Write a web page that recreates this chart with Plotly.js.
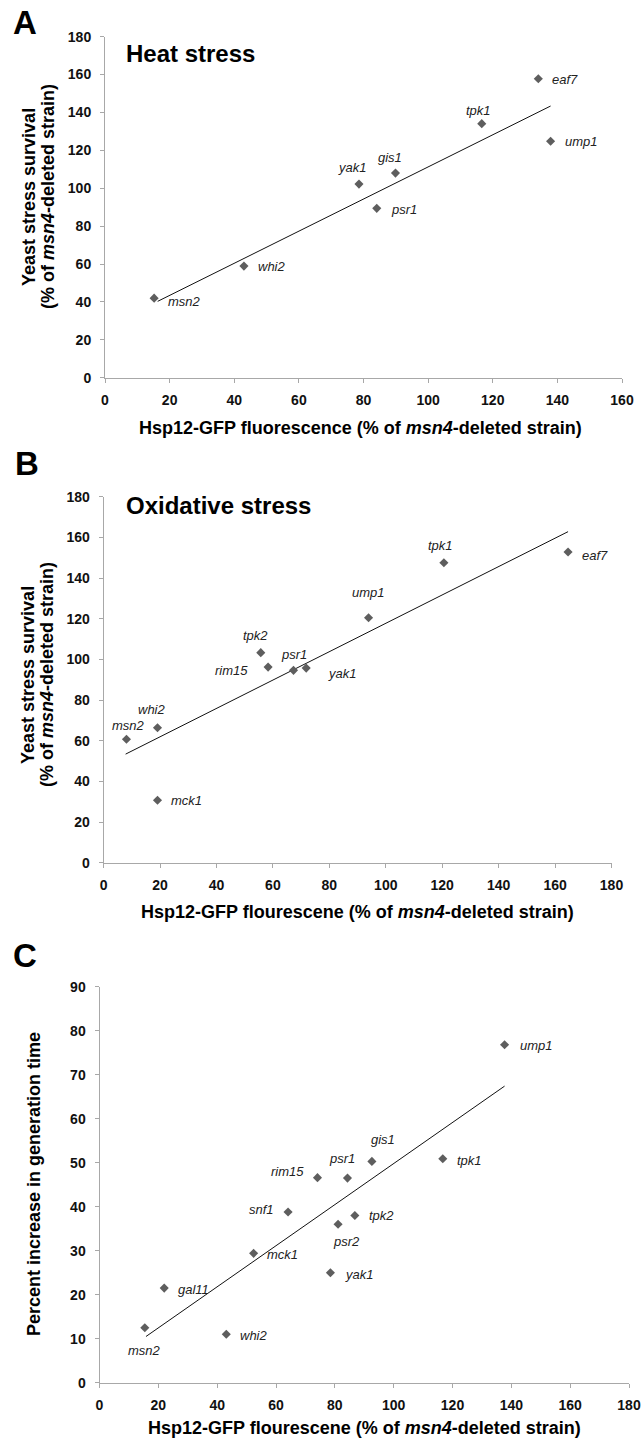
<!DOCTYPE html>
<html>
<head>
<meta charset="utf-8">
<script src="https://cdn.plot.ly/plotly-3.0.1.min.js"></script>
<style>
html,body{margin:0;padding:0;background:#fff;}
#chart{width:641px;height:1438px;}
</style>
</head>
<body>
<div id="chart"></div>
<script>
// ---------- DATA ----------
// Panel A: Heat stress
const genesA = ['eaf7','tpk1','ump1','gis1','yak1','psr1','whi2','msn2'];
const hspA   = [134.1, 116.6, 137.9, 89.9, 78.6, 84.1, 43.0, 15.2];
const survA  = [157.8, 134.1, 124.8, 108.0, 102.2, 89.4, 58.9, 42.0];
const trendAx = [16.3, 137.9];
const trendAy = [40.3, 143.4];

// Panel B: Oxidative stress
const genesB = ['tpk1','eaf7','ump1','tpk2','rim15','psr1','yak1','whi2','msn2','mck1'];
const hspB   = [120.6, 164.6, 93.9, 55.7, 58.3, 67.3, 71.8, 19.1, 8.1, 19.1];
const survB  = [147.5, 152.8, 120.5, 103.3, 96.2, 94.6, 95.7, 66.4, 60.7, 30.7];
const trendBx = [7.8, 164.6];
const trendBy = [53.4, 162.8];

// Panel C: generation time
const genesC = ['ump1','tpk1','gis1','psr1','rim15','snf1','tpk2','psr2','mck1','yak1','gal11','msn2','whi2'];
const hspC   = [137.7, 116.7, 92.6, 84.3, 74.1, 64.1, 86.8, 81.1, 52.4, 78.5, 22.0, 15.4, 43.1];
const genC   = [76.8, 50.9, 50.3, 46.5, 46.6, 38.8, 38.0, 36.0, 29.4, 25.0, 21.5, 12.5, 11.0];
const trendCx = [15.8, 137.7];
const trendCy = [10.5, 67.4];

// Text
const panelLetters = ['A','B','C'];
const panelTitles = ['Heat stress','Oxidative stress'];
const xTitles = ['Hsp12-GFP fluorescence (% of <i>msn4</i>-deleted strain)',
                 'Hsp12-GFP flourescene (% of <i>msn4</i>-deleted strain)',
                 'Hsp12-GFP flourescene (% of <i>msn4</i>-deleted strain)'];
const yTitleA = ['Yeast stress survival','(% of <i>msn4</i>-deleted strain)'];
const yTitleB = ['Yeast stress survival','(% of <i>msn4</i>-deleted strain)'];
const yTitleC = 'Percent increase in generation time';

// ---------- STYLE / PLACEMENT ----------
const W = 641, H = 1438;
const FONT = 'Liberation Sans, Arial, Helvetica, sans-serif';
const px = v => v / W;
const py = v => 1 - v / H;

// label placement: [xanchor, xshift, yshift]
const placeA = [['left',12,-1],['center',-3,13],['left',12,0],['center',-5,16],['center',-7,17],['left',12,-1],['left',12,0],['left',12,-3]];
const placeB = [['center',-3,17],['left',12,-3],['center',0,25],['center',-5,17],['right',-18,-3],['center',0,16],['left',20,-5],['center',-5,18],['center',2,14],['left',12,0]];
const placeC = [['left',13,-1],['left',12,-2],['center',11,22],['center',-5,20],['right',-11,6],['right',-12,2],['left',12,0],['center',8,-17],['left',11,-1],['left',13,-2],['left',12,-1],['center',0,-23],['left',12,-1]];

const MARK = '#5e5e5e';
const AXC = '#a8a8a8';

function axisX(domain, range, anchor) {
  return {domain: domain, range: range, dtick: 20, tick0: 0, anchor: anchor,
    showgrid: false, zeroline: false, showline: true, linecolor: AXC, linewidth: 1,
    ticks: 'outside', ticklen: 4, tickcolor: AXC, tickwidth: 1,
    tickfont: {family: FONT, size: 14, color: '#111', weight: 'bold'},
    ticklabelstandoff: 5, fixedrange: true};
}
function axisY(domain, range, dtick, anchor) {
  return {domain: domain, range: range, dtick: dtick, tick0: 0, anchor: anchor,
    showgrid: false, zeroline: false, showline: true, linecolor: AXC, linewidth: 1,
    ticks: 'outside', ticklen: 4, tickcolor: AXC, tickwidth: 1,
    tickfont: {family: FONT, size: 14, color: '#111', weight: 'bold'},
    ticklabelstandoff: 6, fixedrange: true};
}

function markers(x, y, xa, ya) {
  return {x: x, y: y, xaxis: xa, yaxis: ya, type: 'scatter', mode: 'markers',
    marker: {symbol: 'diamond', size: 7, color: MARK}, hoverinfo: 'skip', showlegend: false, cliponaxis: false};
}
function trend(x, y, xa, ya) {
  return {x: x, y: y, xaxis: xa, yaxis: ya, type: 'scatter', mode: 'lines',
    line: {color: '#111', width: 1}, hoverinfo: 'skip', showlegend: false};
}

const data = [
  trend(trendAx, trendAy, 'x', 'y'),
  markers(hspA, survA, 'x', 'y'),
  trend(trendBx, trendBy, 'x2', 'y2'),
  markers(hspB, survB, 'x2', 'y2'),
  trend(trendCx, trendCy, 'x3', 'y3'),
  markers(hspC, genC, 'x3', 'y3')
];

const annotations = [];
function pointLabels(genes, xs, ys, place, xr, yr) {
  genes.forEach((g, i) => {
    const p = place[i];
    annotations.push({x: xs[i], y: ys[i], xref: xr, yref: yr, text: '<i>' + g + '</i>',
      showarrow: false, xanchor: p[0], yanchor: 'middle', xshift: p[1], yshift: p[2],
      font: {family: FONT, size: 13, color: '#222'}});
  });
}
pointLabels(genesA, hspA, survA, placeA, 'x', 'y');
pointLabels(genesB, hspB, survB, placeB, 'x2', 'y2');
pointLabels(genesC, hspC, genC, placeC, 'x3', 'y3');

function paperText(text, xpx, ypx, size, opts) {
  annotations.push(Object.assign({x: px(xpx), y: py(ypx), xref: 'paper', yref: 'paper', text: text,
    showarrow: false, xanchor: 'center', yanchor: 'middle',
    font: {family: FONT, size: size, color: '#000', weight: 'bold'}}, opts || {}));
}
// panel letters
paperText(panelLetters[0], 25, 22, 33);
paperText(panelLetters[1], 27, 463, 33);
paperText(panelLetters[2], 25, 955, 33);
// panel titles
paperText(panelTitles[0], 124, 54, 24, {xanchor: 'left'});
paperText(panelTitles[1], 124, 506, 24, {xanchor: 'left'});
// x titles
paperText(xTitles[0], 360, 428, 18);
paperText(xTitles[1], 357, 912, 18);
paperText(xTitles[2], 364, 1428, 18);
// y titles
paperText(yTitleA[0], 29, 197, 18, {textangle: -90});
paperText(yTitleA[1], 48, 197, 18, {textangle: -90});
paperText(yTitleB[0], 28, 675, 18, {textangle: -90});
paperText(yTitleB[1], 47, 675, 18, {textangle: -90});
paperText(yTitleC, 34, 1184, 18, {textangle: -90});

const layout = {
  width: W, height: H,
  margin: {l: 0, r: 0, t: 0, b: 0, pad: 0},
  paper_bgcolor: '#fff', plot_bgcolor: 'rgba(0,0,0,0)',
  showlegend: false,
  xaxis:  axisX([px(105), px(622)], [0, 160], 'y'),
  yaxis:  axisY([py(377.7), py(36.7)], [0, 180], 20, 'x'),
  xaxis2: axisX([px(103.6), px(611.5)], [0, 180], 'y2'),
  yaxis2: axisY([py(862.7), py(496.7)], [0, 180], 20, 'x2'),
  xaxis3: axisX([px(99.5), px(629)], [0, 180], 'y3'),
  yaxis3: axisY([py(1382.7), py(986.7)], [0, 90], 10, 'x3'),
  annotations: annotations
};

Plotly.newPlot('chart', data, layout, {staticPlot: true, displayModeBar: false});
</script>
</body>
</html>
